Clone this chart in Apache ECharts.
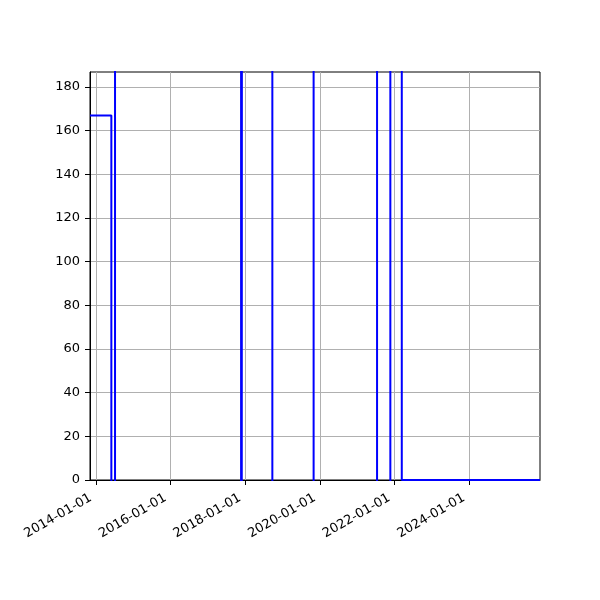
<!DOCTYPE html>
<html><head><meta charset="utf-8">
<script src="https://cdn.jsdelivr.net/npm/echarts@6/dist/echarts.min.js"></script>
<style>html,body{margin:0;padding:0;background:#fff}#c{width:600px;height:600px}</style>
</head><body><div id="c"></div>
<script>
// step series: each value begins at its date (out-of-range values run past the plot frame)
const stepDates = ['2013-11-03','2014-05-31','2014-07-06','2017-11-21','2017-12-04','2018-09-23','2019-11-01','2021-07-14','2021-11-21','2022-03-13','2025-11-25'];
const stepValues = [167, -1000, 1000, -1000, 1000, -1000, 1000, -1000, 1000, 0, 0];
const xTickDates = ['2014-01-01','2016-01-01','2018-01-01','2020-01-01','2022-01-01','2024-01-01'];
const yTicks = [0, 20, 40, 60, 80, 100, 120, 140, 160, 180];
const xMin = '2013-11-03', xMax = '2025-11-25';
const yMin = 0, yMax = 186.9;

const ms = s => Date.parse(s + 'T00:00:00Z');
const fmt = v => {
  const d = new Date(v);
  const p = n => String(n).padStart(2, '0');
  return d.getUTCFullYear() + '-' + p(d.getUTCMonth() + 1) + '-' + p(d.getUTCDate());
};
const font = 'DejaVu Sans';
const chart = echarts.init(document.getElementById('c'), null, {renderer: 'canvas'});
const data = stepDates.map((d, i) => [ms(d), stepValues[i]]);
const xTicks = xTickDates.map(ms);
chart.setOption({
  animation: false,
  backgroundColor: '#fff',
  grid: {left: 90, right: 60, top: 72, bottom: 120, show: true, borderColor: '#000', borderWidth: 1, backgroundColor: 'transparent'},
  xAxis: {
    type: 'value', min: ms(xMin), max: ms(xMax), scale: true,
    axisLine: {show: true, onZero: false, lineStyle: {color: '#000', width: 1}},
    axisTick: {show: true, length: 5, lineStyle: {color: '#000'}, customValues: xTicks},
    axisLabel: {customValues: xTicks, rotate: 30, margin: 14, padding: [0, 6, 0, 0], color: '#000', fontFamily: font, fontSize: 13, formatter: fmt},
    splitLine: {show: true, lineStyle: {color: '#b0b0b0', width: 1}}
  },
  yAxis: {
    type: 'value', min: yMin, max: yMax,
    axisLine: {show: true, lineStyle: {color: '#000', width: 1}},
    axisTick: {show: true, length: 5, lineStyle: {color: '#000'}, customValues: yTicks},
    axisLabel: {customValues: yTicks, margin: 10, color: '#000', fontFamily: font, fontSize: 13},
    splitLine: {show: true, lineStyle: {color: '#b0b0b0', width: 1}}
  },
  series: [{
    type: 'line', step: 'end', data: data, showSymbol: false, symbol: 'none', clip: true,
    lineStyle: {color: '#0000ff', width: 2}
  }]
});
</script></body></html>
